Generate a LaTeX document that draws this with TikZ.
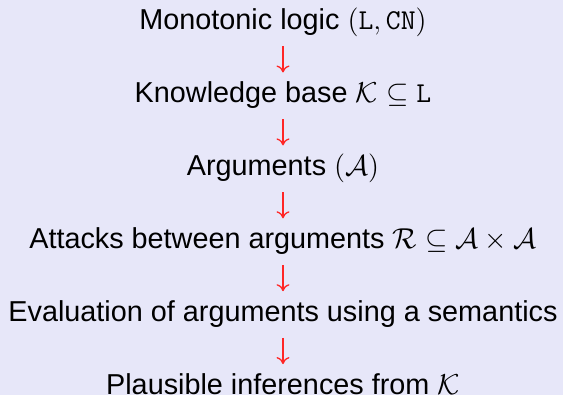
\documentclass[tikz,border=0pt]{standalone}
\usepackage[no-math]{fontspec}
\setmainfont{Liberation Sans}
\usepackage{xcolor}
\usetikzlibrary{arrows.meta,positioning}
\definecolor{slidebg}{RGB}{231,231,249}

\begin{document}
\begin{tikzpicture}[
    stage/.style={font=\fontsize{14.4}{17}\selectfont, inner sep=0pt, text height=10.5pt, text depth=3pt},
    flow/.style={-{To[length=3.5pt,width=6.5pt]}, red!85!white, line width=0.65pt, shorten <=5pt, shorten >=4.5pt},
    node distance=22.55pt,
]
\fill[slidebg] (0,0) rectangle (281.5pt,-197.5pt);
\useasboundingbox (0,0) rectangle (281.5pt,-197.5pt);

\node[stage, anchor=base] (logic) at (141.5pt,-15pt) {Monotonic logic $(\mathtt{L},\mathtt{CN})$};
\node[stage, below=of logic] (kb) {Knowledge base $\mathcal{K}\subseteq\mathtt{L}$};
\node[stage, below=of kb] (args) {Arguments $(\mathcal{A})$};
\node[stage, below=of args] (attacks) {Attacks between arguments $\mathcal{R}\subseteq\mathcal{A}\times\mathcal{A}$};
\node[stage, below=of attacks] (eval) {Evaluation of arguments using a semantics};
\node[stage, text depth=0pt, below=of eval] (infer) {Plausible inferences from $\mathcal{K}$};

\draw[flow] (logic) -- (kb);
\draw[flow] (kb) -- (args);
\draw[flow] (args) -- (attacks);
\draw[flow] (attacks) -- (eval);
\draw[flow] (eval) -- (infer);
\end{tikzpicture}
\end{document}
